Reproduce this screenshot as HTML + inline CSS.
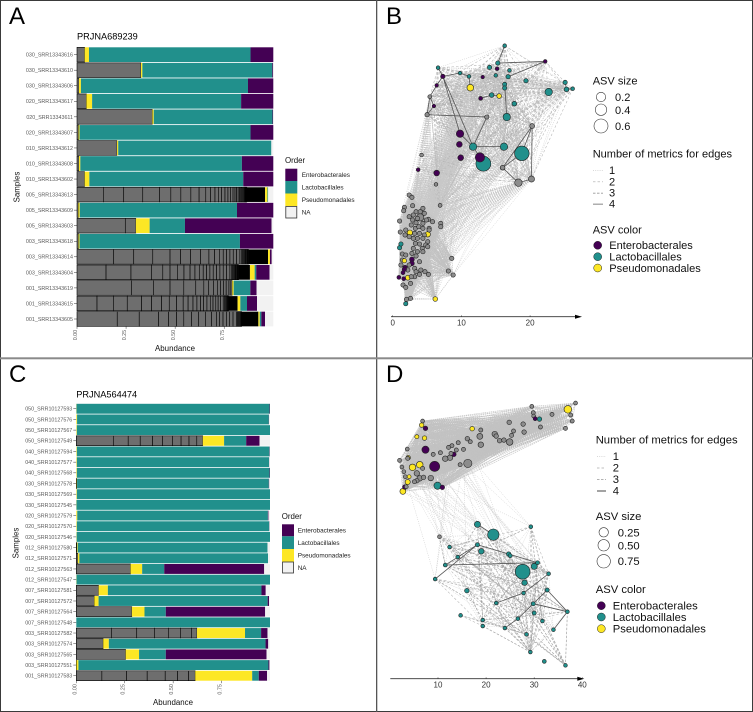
<!DOCTYPE html>
<html>
<head>
<meta charset="utf-8">
<title>Four-panel abundance and network figure</title>
<style>
html,body{margin:0;padding:0;background:#fff;}
svg{display:block;font-family:"Liberation Sans",Arial,sans-serif;}
.tick{font-size:5.36px;fill:#5a5a5a;}
.axt{font-size:7.9px;fill:#111;}
.leg{font-size:6.4px;fill:#222;}
.net{font-size:11.05px;fill:#111;}
.netd{font-size:11.25px;fill:#111;}
.num{font-size:8px;fill:#333;}
.letter{font-size:24px;fill:#000;}
.ttl{font-size:9.2px;fill:#000;}
</style>
</head>
<body>
<svg id="fig" xmlns="http://www.w3.org/2000/svg" width="753" height="712" viewBox="0 0 753 712">
<rect x="0" y="0" width="753" height="712" fill="#fff"/>
<g id="edgesB"></g>
<g id="edgesD"></g>
<g id="nodesB"></g>
<g id="nodesD"></g>
<g id="barsA"></g>
<g id="barsC"></g>
<g id="axesNet"></g>

<g fill="#3a3a3a">
<rect x="0" y="0" width="753" height="1"/>
<rect x="0" y="0" width="1" height="712"/>
<rect x="752" y="0" width="1" height="712"/>
<rect x="0" y="711" width="753" height="1"/>
<rect x="376" y="0" width="1.3" height="712" fill="#555"/>
<rect x="0" y="357.3" width="753" height="2" fill="#8a8a8a"/>
</g>

<text class="letter" x="9" y="24">A</text>
<text class="letter" x="386" y="24">B</text>
<text class="letter" x="9" y="382">C</text>
<text class="letter" x="386" y="382">D</text>

<text class="ttl" x="77" y="39.3">PRJNA689239</text>
<text class="ttl" x="76.3" y="397.3">PRJNA564474</text>
<text class="axt" x="175" y="351" text-anchor="middle">Abundance</text>
<text class="axt" x="173" y="705" text-anchor="middle">Abundance</text>
<text class="axt" transform="translate(19.3,187) rotate(-90)" text-anchor="middle">Samples</text>
<text class="axt" transform="translate(18.7,543) rotate(-90)" text-anchor="middle">Samples</text>

<g>
<text class="axt" x="285" y="163">Order</text>
<rect x="285.3" y="168.7" width="12" height="12.3" fill="#440154"/>
<rect x="285.3" y="181" width="12" height="12.5" fill="#21908c"/>
<rect x="285.3" y="193.5" width="12" height="12.5" fill="#fde725"/>
<rect x="285.8" y="206.5" width="11" height="11.5" fill="#f2f2f2" stroke="#333" stroke-width=".8"/>
<text class="leg" x="301.7" y="177">Enterobacterales</text>
<text class="leg" x="301.7" y="189.4">Lactobacillales</text>
<text class="leg" x="301.7" y="201.9">Pseudomonadales</text>
<text class="leg" x="301.7" y="214.4">NA</text>
</g>

<g>
<text class="axt" x="281.7" y="519">Order</text>
<rect x="282" y="524.3" width="12" height="12" fill="#440154"/>
<rect x="282" y="536.3" width="12" height="12.7" fill="#21908c"/>
<rect x="282" y="549" width="12" height="12.7" fill="#fde725"/>
<rect x="282.5" y="562" width="11" height="11" fill="#f2f2f2" stroke="#333" stroke-width=".8"/>
<text class="leg" x="297.7" y="532.6">Enterobacterales</text>
<text class="leg" x="297.7" y="545">Lactobacillales</text>
<text class="leg" x="297.7" y="557.5">Pseudomonadales</text>
<text class="leg" x="297.7" y="570">NA</text>
</g>

<g>
<text class="net" x="592.7" y="84.7">ASV size</text>
<circle cx="601" cy="97" r="4.7" fill="#fff" stroke="#333" stroke-width=".6"/>
<circle cx="601" cy="109.7" r="5.7" fill="#fff" stroke="#333" stroke-width=".6"/>
<circle cx="601" cy="126" r="7" fill="#fff" stroke="#333" stroke-width=".6"/>
<text class="net" x="615" y="101">0.2</text>
<text class="net" x="615" y="114">0.4</text>
<text class="net" x="615" y="130">0.6</text>
<text class="net" x="592.7" y="157.7">Number of metrics for edges</text>
<line x1="593" x2="603" y1="170.5" y2="170.5" stroke="#ccc" stroke-width=".7" stroke-dasharray="1 1.2"/>
<line x1="593" x2="603" y1="181.8" y2="181.8" stroke="#aaa" stroke-width=".7" stroke-dasharray="2.5 2"/>
<line x1="593" x2="603" y1="193.2" y2="193.2" stroke="#999" stroke-width=".8" stroke-dasharray="2.5 1.5"/>
<line x1="593" x2="603" y1="204.2" y2="204.2" stroke="#999" stroke-width="1.2"/>
<text class="net" x="609" y="174">1</text>
<text class="net" x="609" y="185.3">2</text>
<text class="net" x="609" y="196.7">3</text>
<text class="net" x="609" y="207.7">4</text>
<text class="net" x="592.7" y="233.3">ASV color</text>
<circle cx="597.7" cy="245.3" r="4" fill="#440154" stroke="#222" stroke-width=".5"/>
<circle cx="597.7" cy="256.7" r="4" fill="#21908c" stroke="#222" stroke-width=".5"/>
<circle cx="597.7" cy="268" r="4" fill="#fde725" stroke="#222" stroke-width=".5"/>
<text class="net" x="609.3" y="249">Enterobacterales</text>
<text class="net" x="609.3" y="260.5">Lactobacillales</text>
<text class="net" x="609.3" y="272">Pseudomonadales</text>
</g>

<g>
<text class="netd" x="595.7" y="443.7">Number of metrics for edges</text>
<line x1="597" x2="606" y1="456.5" y2="456.5" stroke="#ccc" stroke-width=".7" stroke-dasharray="1 1.2"/>
<line x1="597" x2="606" y1="468" y2="468" stroke="#aaa" stroke-width=".7" stroke-dasharray="2.5 2"/>
<line x1="597" x2="606" y1="479.5" y2="479.5" stroke="#999" stroke-width=".8" stroke-dasharray="2.5 1.5"/>
<line x1="597" x2="606" y1="491" y2="491" stroke="#333" stroke-width=".9"/>
<text class="netd" x="612.7" y="460">1</text>
<text class="netd" x="612.7" y="471.5">2</text>
<text class="netd" x="612.7" y="483">3</text>
<text class="netd" x="612.7" y="494.6">4</text>
<text class="netd" x="595.7" y="520">ASV size</text>
<circle cx="603.7" cy="532.3" r="4.7" fill="#fff" stroke="#333" stroke-width=".6"/>
<circle cx="603.7" cy="545.3" r="5.7" fill="#fff" stroke="#333" stroke-width=".6"/>
<circle cx="603.7" cy="561.3" r="6.7" fill="#fff" stroke="#333" stroke-width=".6"/>
<text class="netd" x="617.7" y="536.3">0.25</text>
<text class="netd" x="617.7" y="549.3">0.50</text>
<text class="netd" x="617.7" y="565">0.75</text>
<text class="netd" x="595.7" y="593">ASV color</text>
<circle cx="601.3" cy="605.7" r="4" fill="#440154" stroke="#222" stroke-width=".5"/>
<circle cx="601.3" cy="617" r="4" fill="#21908c" stroke="#222" stroke-width=".5"/>
<circle cx="601.3" cy="628.7" r="4" fill="#fde725" stroke="#222" stroke-width=".5"/>
<text class="netd" x="612.7" y="609.3">Enterobacterales</text>
<text class="netd" x="612.7" y="621">Lactobacillales</text>
<text class="netd" x="612.7" y="632.5">Pseudomonadales</text>
</g>
</svg>

<script>
/* ---------- Panel A data ---------- */
const samplesA = ["030_SRR13343616","030_SRR13343610","030_SRR13343606","020_SRR13343617","020_SRR13343611","020_SRR13343607","010_SRR13343612","010_SRR13343608","010_SRR13343602","005_SRR13343613","005_SRR13343609","005_SRR13343603","003_SRR13343618","003_SRR13343614","003_SRR13343604","001_SRR13343619","001_SRR13343615","001_SRR13343605"];
const unassignedA = [
 [.039],[.326],[.01],[.048],[.384],[.008],[.204],[.01],[.039],
 [.134,.104,.097,.085,.058,.051,.051,.042,.034,.025,.022,.017,.017,.017,.015,.014,.012,.01,.008,.008,.007,.006,.005,.005,.004,.004,.004,.003,.003,.003],
 [.007],[.246,.054],[.008],
 [.187,.102,.097,.088,.054,.051,.051,.042,.029,.024,.02,.017,.017,.017,.017,.017,.007,.006,.005,.005,.004,.004,.004,.003,.003,.003],
 [.148,.127,.104,.058,.037,.037,.034,.031,.025,.022,.02,.017,.017,.017,.017,.017,.017,.017,.017,.007,.006,.005,.005,.004,.004,.004,.003,.003,.003],
 [.277,.112,.085,.07,.061,.041,.025,.024,.02,.017,.014,.014,.014,.01,.007],
 [.102,.083,.071,.073,.051,.051,.039,.037,.034,.025,.025,.02,.019,.015,.017,.017,.014,.014,.012,.012,.014,.006,.005,.005,.004,.004,.003],
 [.205,.112,.098,.051,.041,.037,.039,.037,.034,.031,.025,.017,.017,.017,.017,.017,.017,.006,.005,.005,.004,.004,.003]
];
const rareA = [0,0,0,0,0,0,0,0,0,.093,0,0,0,.099,.058,0,.046,.085];
const pseudoA = [.022,.007,.01,.029,.007,.005,.006,.007,.024,.012,.007,.07,.005,.01,.024,.007,.014,.007];
const lactoA = [.823,.662,.851,.759,.605,.871,.78,.823,.784,.004,.801,.18,.817,0,.008,.085,.034,.008];
const enteroA = [.116,.004,.129,.164,.003,.116,0,.16,.153,0,.185,.441,.17,.009,.068,.032,.051,.019];

/* ---------- Panel C data ---------- */
const samplesC = ["050_SRR10127593","050_SRR10127576","050_SRR10127567","050_SRR10127549","040_SRR10127594","040_SRR10127577","040_SRR10127568","030_SRR10127578","030_SRR10127569","030_SRR10127545","020_SRR10127579","020_SRR10127570","020_SRR10127546","012_SRR10127580","012_SRR10127571","012_SRR10127563","012_SRR10127547","007_SRR10127581","007_SRR10127572","007_SRR10127564","007_SRR10127548","003_SRR10127582","003_SRR10127574","003_SRR10127565","003_SRR10127551","001_SRR10127583"];
const unassignedC = [[],[],[],[.191,.077,.062,.064,.052,.05,.045,.041,.04,.031],[],[],[],[.002],[],[],[],[],[],[.003],[.008],[.28],[],[.115],[.093],[.287],[],[.181,.131,.091,.072,.062,.057,.029],[.139],[.255],[.001],[.132,.127,.107,.093,.064,.057,.034]];
const pseudoC = [.001,.004,.003,.11,.003,.003,.003,.002,.003,.001,.005,.003,.002,.004,.008,.06,.001,.048,.022,.065,0,.248,.029,.069,.01,.294];
const lactoC = [.997,.99,.997,.114,.994,.992,.995,.99,.997,.999,.984,.993,.998,.98,.974,.114,.999,.793,.873,.11,1,.083,.809,.138,.981,.034];
const enteroC = [.002,.001,0,.069,.002,.001,.002,.002,0,0,.003,.001,0,0,0,.516,0,.022,.007,.513,0,.033,.014,.52,.005,.043];

const axisTicksBar = [0,.25,.5,.75];
const axisTickLabelsBar = ["0.00","0.25","0.50","0.75"];

/* ---------- Panel B network data ---------- */
const nodeXB = [16.3,15.3,14.1,17.0,15.0,16.8,11.1,6.6,9.8,19.4,16.3,16.3,14.4,25.1,25.3,26.2,22.7,17.7,16.6,11.7,16.2,18.8,13.2,
 22.2,15.2,7.3,13.1,6.4,12.8,6.0,9.8,9.7,9.9,12.7,3.7,6.4,
 11.3,15.5,
 5.4,5.0,13.7,20.3,16.0,4.2,18.3,20.2,6.3,6.9,
 1.0,1.1,1.7,1.6,2.9,2.4,2.8,4.4,3.4,4.0,4.6,3.0,2.4,5.2,5.8,4.9,3.6,4.0,2.9,3.4,4.4,2.7,3.3,3.8,4.4,5.3,7.0,7.0,1.9,1.8,2.4,3.2,3.9,4.6,5.3,3.0,3.6,4.4,5.1,4.8,3.9,3.3,4.3,5.1,4.4,3.6,3.0,2.8,3.4,1.4,1.9,1.4,1.2,2.4,3.2,2.2,3.9,4.1,4.7,5.2,3.9,3.2,2.6,3.4,1.5,1.9,2.7,2.0,2.6,8.6,8.1,8.8,
 2.5,5.1,1.7,2.2,6.2,
 1.0,1.2,1.9,
 2.8,2.8,1.8,1.7,1.5,0.9,1.6];
const nodeYB = [813,761,748,739,724,720,721,747,731,708,697,686,665,703,682,684,674,639,599,510,510,490,459,
 766,744,721,719,694,655,632,549,517,477,478,441,431,
 687,662,
 660,606,599,572,447,485,402,413,397,334,
 287,254,328,318,333,365,358,325,315,315,310,305,300,292,285,290,295,298,290,282,280,275,265,270,265,265,280,270,260,245,240,250,250,245,260,235,235,235,225,215,218,220,205,210,195,195,205,190,182,188,185,170,155,155,145,140,165,140,135,127,127,120,100,135,95,88,120,52,55,175,137,125,
 252,247,168,117,53,
 207,218,39,
 172,160,147,142,132,118,114];
const nodeSizeB = [.003,.01,.01,.003,.003,.01,.003,.003,.003,.01,.01,.01,.017,.01,.017,.003,.1,.017,.1,.1,.1,.65,.7,
 .003,.003,.01,.002,.002,.005,.002,.1,.04,.04,.2,.003,.04,
 .07,.017,
 .005,.01,.01,.02,.017,.003,.1,.05,.003,.005,
 .01,.01,.01,.01,.01,.01,.01,.01,.01,.01,.01,.01,.01,.01,.01,.01,.01,.1,.01,.01,.01,.01,.01,.01,.01,.01,.01,.01,.01,.01,.01,.01,.01,.01,.01,.01,.01,.01,.01,.01,.01,.01,.01,.01,.01,.01,.01,.01,.01,.01,.01,.01,.01,.01,.01,.01,.01,.01,.01,.01,.01,.01,.01,.01,.01,.01,.01,.01,.01,.01,.01,.01,
 .03,.03,.01,.02,.015,
 .01,.01,.01,
 .017,.017,.017,.01,.005,.005,.005];
const nodeOrderRunsB = [["T",23],["E",13],["Y",2],["G",10],["G",72],["Y",5],["T",3],["E",7]];
const upperCountB = 48;
const strongEdgesB = [[0,1],[1,23],[23,5],[7,25],[25,27],[27,38],[38,29],[29,39],[38,39],[25,19],[25,8],[8,6],[6,36],[39,40],[40,19],[19,20],[19,33],[41,21],[41,42],[41,45],[42,44],[44,45],[42,21],[13,14],[14,15],[25,30],[30,19],[28,12],[12,37],[18,10]];
const axisTicksB = [0,10,20];

/* ---------- Panel D network data ---------- */
const nodeXD = [37.0,38.6,29.5,29.8,29.9,37.6,37.9,36.5,31.3,33.7,24.8,27.7,18.9,27.9,25.7,25.3,31.1,30.2,21.8,22.1,18.7,16.1,16.7,14.2,18.9,22.8,23.7,24.9,12.9,12.2,15.3,13.8,12.7,12.5,11.5,16.2,14.6,10.5,9.0,3.6,2.0,3.7,2.5,2.9,5.6,6.2,5.6,8.5,7.0,3.4,3.2,5.1,6.8,6.8,
 6.6,5.6,7.2,17.1,3.8,4.7,6.2,4.0,3.7,2.7,
 7.4,7.4,9.3,13.3,3.1,10.9,9.9,
 18.2,29.3,21.5,10.3,18.2,12.4,19.0,14.1,24.7,25.0,11.5,30.7,30.0,27.6,33.0,9.4,28.0,27.8,16.0,32.7,22.1,29.8,36.9,30.0,14.7,19.3,19.3,26.6,31.7,23.9,34.0,28.4,29.2,32.1,36.5];
const nodeYD = [808,827,817,798,788,791,773,751,755,793,769,764,746,740,743,730,779,780,734,728,727,720,711,708,702,714,716,710,699,694,688,686,676,663,660,646,642,678,673,689,655,661,635,621,616,601,594,602,604,576,606,591,631,773,
 761,726,722,750,663,634,642,606,590,562,
 751,687,637,673,575,574,579,
 463,456,432,426,402,395,382,365,374,369,341,348,337,321,315,299,288,257,264,266,227,225,201,197,190,176,158,180,173,152,147,133,80,52,40];
const nodeSizeD = [.14,.002,.002,.004,.002,.004,.004,.004,.004,.004,.01,.01,.004,.01,.004,.004,.01,.002,.036,.01,.05,.01,.004,.004,.036,.01,.01,.08,.004,.004,.004,.004,.004,.036,.036,.18,.004,.004,.004,.002,.002,.004,.002,.002,.036,.036,.01,.036,.01,.002,.002,.004,.004,.002,
 .01,.004,.01,.01,.01,.08,.08,.002,.023,.05,
 .01,.11,.35,.01,.01,.01,.11,
 .06,.001,.49,.001,.004,.001,.036,.001,.01,.002,.002,.002,.06,1,.001,.001,.036,.001,.01,.004,.001,.004,.001,.004,.001,.001,.001,.001,.001,.001,.001,.001,.001,.002,.001];
const nodeOrderRunsD = [["Y",1],["G",15],["T",1],["E",1],["G",36],["Y",10],["E",6],["T",1],["T",3],["G",1],["T",31]];
const lowerCountD = 35;
const strongLowerEdgesD = [[4,15],[4,10],[4,8],[8,11],[10,11],[14,17],[17,20],[19,21],[21,27],[27,29],[21,22],[22,30],[19,22],[0,2]];
const axisTicksD = [10,20,30,40];

/* ---------- Scales ---------- */
const xBarA = v => 77 + v * 196.3;
const yBarA = i => 47.3 + i * 15.55;
const xBarC = v => 76.3 + v * 193.7;
const yBarC = i => 403.8 + i * 10.68;
const xNetB = v => 392.7 + v * 6.87;
const yNetB = v => 316.7 - v / 3;
const rNetB = s => 1.45 + 7.2 * Math.sqrt(s);
const xNetD = v => 438 + (v - 10) * 4.81;
const yNetD = v => 678.7 - v / 3;
const rNetD = s => 1.7 + 5.7 * Math.sqrt(s);

const NS = "http://www.w3.org/2000/svg";
const fillOf = {T:"#21908c",E:"#440154",Y:"#fde725",G:"#8c8c8c"};

function mk(tag, attrs, parent) {
  const e = document.createElementNS(NS, tag);
  for (const k in attrs) e.setAttribute(k, attrs[k]);
  parent.appendChild(e);
  return e;
}
function expandRuns(runs) {
  const out = [];
  runs.forEach(r => { for (let i = 0; i < r[1]; i++) out.push(r[0]); });
  return out;
}

/* ---------- Stacked bars ---------- */
function drawBars(root, samples, gray, rare, pseudo, lacto, entero, xs, ys, h) {
  samples.forEach((name, i) => {
    const y = ys(i);
    const tick = mk("line", {x1: xs(0) - 3, x2: xs(0), y1: y + h / 2, y2: y + h / 2, stroke: "#333", "stroke-width": .5}, root);
    
    
    const lab = mk("text", {x: xs(0) - 4, y: y + h / 2 + 1.9, "text-anchor": "end", class: "tick"}, root);
    
    
    lab.textContent = name;

    let acc = 0;
    const seg = (value, fill, stroke, label) => {
      if (!value) return;
      const r = mk("rect", {x: xs(acc), y: y, width: xs(acc + value) - xs(acc), height: h, fill: fill}, root);
      if (stroke) { r.setAttribute("stroke", "#000"); r.setAttribute("stroke-width", ".6"); }
      
      
      acc += value;
    };
    gray[i].forEach(v => seg(v, "#6e6e6e", true, "bar-segment-unassigned"));
    seg(rare ? rare[i] : 0, "#000", false, "bar-segment-rare");
    seg(pseudo[i], fillOf.Y, false, "bar-segment-pseudomonadales");
    seg(lacto[i], fillOf.T, false, "bar-segment-lactobacillales");
    seg(entero[i], fillOf.E, false, "bar-segment-enterobacterales");
    if (acc < 0.9995) seg(1 - acc, "#f2f2f2", false, "bar-segment-na");
  });
  axisTicksBar.forEach((t, i) => {
    const bottom = ys(samples.length - 1) + h;
    const tk = mk("line", {x1: xs(t), x2: xs(t), y1: bottom, y2: bottom + 2.5, stroke: "#333", "stroke-width": .5}, root);
    
    
    const tl = mk("text", {transform: "translate(" + xs(t) + "," + (bottom + 3.5) + ") rotate(-90)", "text-anchor": "end", class: "tick"}, root);
    
    
    tl.textContent = axisTickLabelsBar[i];
  });
}
drawBars(document.getElementById("barsA"), samplesA, unassignedA, rareA, pseudoA, lactoA, enteroA, xBarA, yBarA, 14.7);
drawBars(document.getElementById("barsC"), samplesC, unassignedC, null, pseudoC, lactoC, enteroC, xBarC, yBarC, 9.9);

/* ---------- Networks ---------- */
const edgeStyle = {
  0: {stroke: "#c2c2c2", "stroke-width": .6, "stroke-dasharray": "1.4 .7"},
  1: {stroke: "#c8c8c8", "stroke-width": .5, "stroke-dasharray": "1 1.2"},
  2: {stroke: "#b4b4b4", "stroke-width": .55, "stroke-dasharray": "2.5 2"},
  3: {stroke: "#a4a4a4", "stroke-width": .7, "stroke-dasharray": "2.5 1.5"},
  4: {stroke: "#555", "stroke-width": .8}
};
function edgeLine(root, xs, ys, X, Y, i, j, metric) {
  const a = Object.assign({x1: xs(X[i]), y1: ys(Y[i]), x2: xs(X[j]), y2: ys(Y[j]), fill: "none"}, edgeStyle[metric]);
  const l = mk("line", a, root);
  
  
}
function drawNodes(root, xs, ys, rs, X, Y, S, O) {
  const order = X.map((_, i) => i).sort((a, b) => S[b] - S[a]);
  order.forEach(i => {
    const c = mk("circle", {cx: xs(X[i]), cy: ys(Y[i]), r: rs(S[i]), fill: fillOf[O[i]] || fillOf.G, stroke: "#222", "stroke-width": .6}, root);
    
    
  });
}

/* network B */
(function () {
  const g = document.getElementById("edgesB");
  const n = nodeXB.length;
  let k = 0;
  for (let i = 0; i < n; i++) for (let j = i + 1; j < n; j++) {
    k++;
    const upI = i < upperCountB, upJ = j < upperCountB;
    if (upI && upJ) {
      if (k % 3 === 0) edgeLine(g, xNetB, yNetB, nodeXB, nodeYB, i, j, 2);
      else if (k % 3 === 1) edgeLine(g, xNetB, yNetB, nodeXB, nodeYB, i, j, 1);
    } else if (!upI && !upJ) {
      if (k % 2 === 0) edgeLine(g, xNetB, yNetB, nodeXB, nodeYB, i, j, 0);
    } else {
      if (i === 44 || i === 45 || i === 41 || i === 42) { if (j % 2 === 1) edgeLine(g, xNetB, yNetB, nodeXB, nodeYB, i, j, 1); }
      else if (nodeXB[i] < 14 && j % 2 === 0 && i % 2 === 0) edgeLine(g, xNetB, yNetB, nodeXB, nodeYB, i, j, 1);
    }
  }
  strongEdgesB.forEach(e => edgeLine(g, xNetB, yNetB, nodeXB, nodeYB, e[0], e[1], 4));
  drawNodes(document.getElementById("nodesB"), xNetB, yNetB, rNetB, nodeXB, nodeYB, nodeSizeB, expandRuns(nodeOrderRunsB));
})();

/* network D */
(function () {
  const g = document.getElementById("edgesD");
  const n = nodeXD.length, up = n - lowerCountD;
  let k = 0;
  for (let i = 0; i < n; i++) for (let j = i + 1; j < n; j++) {
    k++;
    const upI = i < up, upJ = j < up;
    if (upI && upJ) {
      edgeLine(g, xNetD, yNetD, nodeXD, nodeYD, i, j, 0);
    } else if (!upI && !upJ) {
      if (k % 9 === 0) edgeLine(g, xNetD, yNetD, nodeXD, nodeYD, i, j, 3);
      else if (k % 9 === 4) edgeLine(g, xNetD, yNetD, nodeXD, nodeYD, i, j, 2);
      else if (k % 9 === 7) edgeLine(g, xNetD, yNetD, nodeXD, nodeYD, i, j, 1);
    } else {
      if (nodeXD[i] < 17 && (i + j) % 17 === 0 && j - up < 20) edgeLine(g, xNetD, yNetD, nodeXD, nodeYD, i, j, 1);
    }
  }
  strongLowerEdgesD.forEach(e => edgeLine(g, xNetD, yNetD, nodeXD, nodeYD, up + e[0], up + e[1], 4));
  drawNodes(document.getElementById("nodesD"), xNetD, yNetD, rNetD, nodeXD, nodeYD, nodeSizeD, expandRuns(nodeOrderRunsD));
})();

/* ---------- Network axes ---------- */
function drawNetAxis(root, xs, y, x1, x2, ticks) {
  const line = mk("line", {x1: x1, x2: x2 - 5, y1: y, y2: y, stroke: "#333", "stroke-width": .8}, root);
  
  
  const head = mk("polygon", {points: (x2 - 7) + "," + (y - 2) + " " + x2 + "," + y + " " + (x2 - 7) + "," + (y + 2), fill: "#000"}, root);
  
  
  ticks.forEach(t => {
    const tk = mk("line", {x1: xs(t), x2: xs(t), y1: y - 1.3, y2: y, stroke: "#333", "stroke-width": .6}, root);
    
    
    const tl = mk("text", {x: xs(t), y: y + 9, "text-anchor": "middle", class: "num"}, root);
    
    
    tl.textContent = String(t);
  });
}
const axesRoot = document.getElementById("axesNet");
drawNetAxis(axesRoot, xNetB, 316.7, 391, 582, axisTicksB);
drawNetAxis(axesRoot, xNetD, 678.7, 390.3, 584.3, axisTicksD);
</script>
</body>
</html>
